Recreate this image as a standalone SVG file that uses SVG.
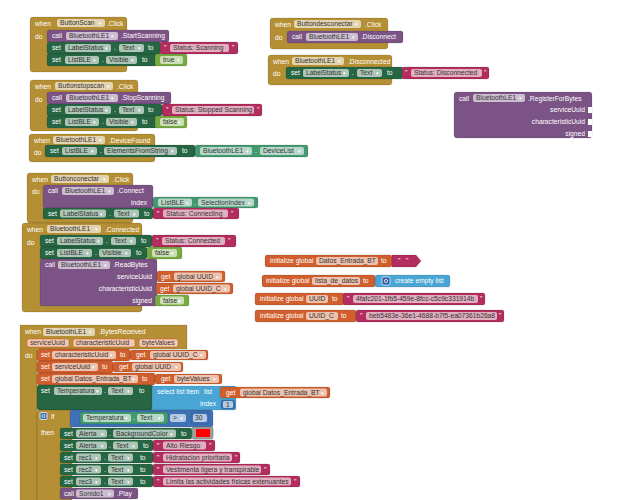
<svg xmlns="http://www.w3.org/2000/svg" width="618" height="500" viewBox="0 0 618 500">
<style>
text{font-family:"Liberation Sans","DejaVu Sans",sans-serif;font-size:6.7px;fill:#fff}
.ft{fill:#333}
.ar{font-family:"DejaVu Sans",sans-serif;font-size:5px;fill:#fff}
.r{text-anchor:end}
.b{stroke:#000;stroke-opacity:.2;stroke-width:.6}
.m{fill:#B58F33}
.p{fill:#7C5385}
.g{fill:#266643}
.gg{fill:#439970}
.s{fill:#B32D5E}
.l{fill:#77AB41}
.o{fill:#D05F2D}
.lb{fill:#49A6D4}
.mb{fill:#3F71B5}
.f{fill:#fff;fill-opacity:.62}
.pf{fill:#F4C9B2;stroke:#C9542A;stroke-width:.5}
</style>
<rect width="618" height="500" fill="#fff"/>

<g id="ev-buttonscan">
<rect class="m b" x="30" y="17" width="97" height="55" rx="3"/>
<text x="35" y="25.8">when</text>
<rect class="f" x="57" y="19" width="48" height="8" rx="2"/><text class="ft" x="60" y="25.4">ButtonScan</text><text class="ar" x="99" y="25">▾</text>
<text x="107" y="25.8">.Click</text>
<text x="35" y="39">do</text>
<rect class="p b" x="47" y="30" width="122" height="12" rx="2"/>
<text x="52" y="38.4">call</text>
<rect class="f" x="66" y="32" width="52" height="8" rx="2"/><text class="ft" x="69" y="38.4">BluetoothLE1</text><text class="ar" x="111" y="38">▾</text>
<text x="121" y="38.4">.StartScanning</text>
<rect class="g b" x="47" y="42" width="114" height="12" rx="2"/>
<text x="52" y="50.4">set</text>
<rect class="f" x="65" y="44" width="46" height="8" rx="2"/><text class="ft" x="68" y="50.4">LabelStatus</text><text class="ar" x="105" y="50">▾</text>
<text x="114" y="50.4">.</text>
<rect class="f" x="119" y="44" width="25" height="8" rx="2"/><text class="ft" x="122" y="50.4">Text</text><text class="ar" x="138" y="50">▾</text>
<text x="148" y="50.4">to</text>
<rect class="s b" x="160" y="42" width="78" height="12" rx="2"/>
<text x="164" y="50.4">"</text><rect class="f" x="170" y="44" width="59" height="8" rx="2"/><text class="ft" x="173" y="50.4">Status: Scanning</text><text x="232" y="50.4">"</text>
<rect class="g b" x="47" y="54" width="110" height="12" rx="2"/>
<text x="52" y="62.4">set</text>
<rect class="f" x="65" y="56" width="34" height="8" rx="2"/><text class="ft" x="68" y="62.4">ListBLE</text><text class="ar" x="93" y="62">▾</text>
<text x="102" y="62.4">.</text>
<rect class="f" x="106" y="56" width="31" height="8" rx="2"/><text class="ft" x="109" y="62.4">Visible</text><text class="ar" x="131" y="62">▾</text>
<text x="142" y="62.4">to</text>
<rect class="l b" x="155" y="54" width="32" height="12" rx="2"/>
<rect class="f" x="160" y="56" width="23" height="8" rx="2"/><text class="ft" x="163" y="62.4">true</text><text class="ar" x="177" y="62">▾</text>
</g>

<g id="ev-buttonstopscan">
<rect class="m b" x="30" y="80" width="108" height="51" rx="3"/>
<text x="35" y="88.8">when</text>
<rect class="f" x="55" y="82" width="58" height="8" rx="2"/><text class="ft" x="58" y="88.4">Buttonstopscan</text><text class="ar" x="107" y="88">▾</text>
<text x="117" y="88.8">.Click</text>
<text x="35" y="102">do</text>
<rect class="p b" x="47" y="92" width="124" height="12" rx="2"/>
<text x="52" y="100.4">call</text>
<rect class="f" x="66" y="94" width="52" height="8" rx="2"/><text class="ft" x="69" y="100.4">BluetoothLE1</text><text class="ar" x="111" y="100">▾</text>
<text x="121" y="100.4">.StopScanning</text>
<rect class="g b" x="47" y="104" width="115" height="12" rx="2"/>
<text x="52" y="112.4">set</text>
<rect class="f" x="65" y="106" width="46" height="8" rx="2"/><text class="ft" x="68" y="112.4">LabelStatus</text><text class="ar" x="105" y="112">▾</text>
<text x="114" y="112.4">.</text>
<rect class="f" x="119" y="106" width="25" height="8" rx="2"/><text class="ft" x="122" y="112.4">Text</text><text class="ar" x="138" y="112">▾</text>
<text x="148" y="112.4">to</text>
<rect class="s b" x="162" y="104" width="100" height="12" rx="2"/>
<text x="166" y="112.4">"</text><rect class="f" x="172" y="106" width="82" height="8" rx="2"/><text class="ft" x="175" y="112.4">Status: Stopped Scanning</text><text x="257" y="112.4">"</text>
<rect class="g b" x="47" y="116" width="110" height="12" rx="2"/>
<text x="52" y="124.4">set</text>
<rect class="f" x="65" y="118" width="34" height="8" rx="2"/><text class="ft" x="68" y="124.4">ListBLE</text><text class="ar" x="93" y="124">▾</text>
<text x="102" y="124.4">.</text>
<rect class="f" x="106" y="118" width="31" height="8" rx="2"/><text class="ft" x="109" y="124.4">Visible</text><text class="ar" x="131" y="124">▾</text>
<text x="142" y="124.4">to</text>
<rect class="l b" x="155" y="116" width="32" height="12" rx="2"/>
<rect class="f" x="160" y="118" width="24" height="8" rx="2"/><text class="ft" x="163" y="124.4">false</text><text class="ar" x="178" y="124">▾</text>
</g>

<g id="ev-devicefound">
<rect class="m b" x="29" y="134" width="126" height="28" rx="3"/>
<text x="34" y="142.8">when</text>
<rect class="f" x="53" y="136" width="52" height="8" rx="2"/><text class="ft" x="56" y="142.4">BluetoothLE1</text><text class="ar" x="99" y="142">▾</text>
<text x="109" y="142.8">.DeviceFound</text>
<text x="34" y="155">do</text>
<rect class="g b" x="45" y="145" width="150" height="12" rx="2"/>
<text x="50" y="153.4">set</text>
<rect class="f" x="62" y="147" width="35" height="8" rx="2"/><text class="ft" x="65" y="153.4">ListBLE</text><text class="ar" x="91" y="153">▾</text>
<text x="100" y="153.4">.</text>
<rect class="f" x="104" y="147" width="73" height="8" rx="2"/><text class="ft" x="107" y="153.4">ElementsFromString</text><text class="ar" x="171" y="153">▾</text>
<text x="182" y="153.4">to</text>
<rect class="gg b" x="195" y="145" width="113" height="12" rx="2"/>
<rect class="f" x="200" y="147" width="52" height="8" rx="2"/><text class="ft" x="203" y="153.4">BluetoothLE1</text><text class="ar" x="246" y="153">▾</text>
<text x="255" y="153.4">.</text>
<rect class="f" x="260" y="147" width="44" height="8" rx="2"/><text class="ft" x="263" y="153.4">DeviceList</text><text class="ar" x="298" y="153">▾</text>
</g>

<g id="ev-buttondesconectar">
<rect class="m b" x="270" y="18" width="118" height="31" rx="3"/>
<text x="275" y="26.8">when</text>
<rect class="f" x="294" y="20" width="67" height="8" rx="2"/><text class="ft" x="297" y="26.4">Buttondesconectar</text><text class="ar" x="355" y="26">▾</text>
<text x="365" y="26.8">.Click</text>
<text x="275" y="40">do</text>
<rect class="p b" x="287" y="31" width="116" height="12" rx="2"/>
<text x="292" y="39.4">call</text>
<rect class="f" x="306" y="33" width="52" height="8" rx="2"/><text class="ft" x="309" y="39.4">BluetoothLE1</text><text class="ar" x="352" y="39">▾</text>
<text x="361" y="39.4">.Disconnect</text>
</g>

<g id="ev-disconnected">
<rect class="m b" x="268" y="55" width="124" height="30" rx="3"/>
<text x="273" y="63.8">when</text>
<rect class="f" x="292" y="57" width="52" height="8" rx="2"/><text class="ft" x="295" y="63.4">BluetoothLE1</text><text class="ar" x="338" y="63">▾</text>
<text x="348" y="63.8">.Disconnected</text>
<text x="273" y="76">do</text>
<rect class="g b" x="286" y="67" width="117" height="12" rx="2"/>
<text x="291" y="75.4">set</text>
<rect class="f" x="303" y="69" width="46" height="8" rx="2"/><text class="ft" x="306" y="75.4">LabelStatus</text><text class="ar" x="343" y="75">▾</text>
<text x="352" y="75.4">.</text>
<rect class="f" x="357" y="69" width="25" height="8" rx="2"/><text class="ft" x="360" y="75.4">Text</text><text class="ar" x="376" y="75">▾</text>
<text x="387" y="75.4">to</text>
<rect class="s b" x="402" y="67" width="87" height="12" rx="2"/>
<text x="405" y="75.4">"</text><rect class="f" x="411" y="69" width="71" height="8" rx="2"/><text class="ft" x="414" y="75.4">Status: Disconnected</text><text x="484" y="75.4">"</text>
</g>

<g id="call-registerforbytes">
<rect class="p b" x="454" y="92" width="138" height="46" rx="3"/>
<text x="459" y="100.6">call</text>
<rect class="f" x="473" y="94" width="52" height="8" rx="2"/><text class="ft" x="476" y="100.4">BluetoothLE1</text><text class="ar" x="519" y="100">▾</text>
<text x="528" y="100.6">.RegisterForBytes</text>
<text class="r" x="585" y="112">serviceUuid</text>
<text class="r" x="585" y="124">characteristicUuid</text>
<text class="r" x="585" y="136">signed</text>
<rect x="588" y="107" width="4" height="6" fill="#fff"/>
<rect x="588" y="119" width="4" height="6" fill="#fff"/>
<rect x="588" y="131" width="4" height="6" fill="#fff"/>
</g>

<g id="ev-buttonconectar">
<rect class="m b" x="27" y="173" width="106" height="50" rx="3"/>
<text x="32" y="181.8">when</text>
<rect class="f" x="51" y="175" width="58" height="8" rx="2"/><text class="ft" x="54" y="181.4">Buttonconectar</text><text class="ar" x="103" y="181">▾</text>
<text x="113" y="181.8">.Click</text>
<text x="32" y="194">do</text>
<rect class="p b" x="43" y="185" width="110" height="23" rx="2"/>
<text x="48" y="193.4">call</text>
<rect class="f" x="62" y="187" width="52" height="8" rx="2"/><text class="ft" x="65" y="193.4">BluetoothLE1</text><text class="ar" x="108" y="193">▾</text>
<text x="117" y="193.4">.Connect</text>
<text class="r" x="147" y="205">index</text>
<rect class="gg b" x="153" y="197" width="105" height="11" rx="2"/>
<rect class="f" x="158" y="198.5" width="34" height="8" rx="2"/><text class="ft" x="161" y="204.9">ListBLE</text><text class="ar" x="186" y="204.5">▾</text>
<text x="194" y="204.9">.</text>
<rect class="f" x="198" y="198.5" width="56" height="8" rx="2"/><text class="ft" x="201" y="204.9">SelectionIndex</text><text class="ar" x="248" y="204.5">▾</text>
<rect class="g b" x="43" y="208" width="110" height="11" rx="2"/>
<text x="48" y="215.9">set</text>
<rect class="f" x="60" y="209.5" width="46" height="8" rx="2"/><text class="ft" x="63" y="215.9">LabelStatus</text><text class="ar" x="100" y="215.5">▾</text>
<text x="109" y="215.9">.</text>
<rect class="f" x="114" y="209.5" width="25" height="8" rx="2"/><text class="ft" x="117" y="215.9">Text</text><text class="ar" x="133" y="215.5">▾</text>
<text x="144" y="215.9">to</text>
<rect class="s b" x="153" y="208" width="86" height="11" rx="2"/>
<text x="157" y="215.9">"</text><rect class="f" x="163" y="209.5" width="65" height="8" rx="2"/><text class="ft" x="166" y="215.9">Status: Connecting</text><text x="231" y="215.9">"</text>
</g>

<g id="ev-connected">
<rect class="m b" x="22" y="223" width="120" height="89" rx="3"/>
<text x="27" y="231.8">when</text>
<rect class="f" x="47" y="225" width="54" height="8" rx="2"/><text class="ft" x="50" y="231.4">BluetoothLE1</text><text class="ar" x="95" y="231">▾</text>
<text x="105" y="231.8">.Connected</text>
<text x="27" y="245">do</text>
<rect class="g b" x="40" y="235" width="112" height="12" rx="2"/>
<text x="45" y="243.4">set</text>
<rect class="f" x="57" y="237" width="46" height="8" rx="2"/><text class="ft" x="60" y="243.4">LabelStatus</text><text class="ar" x="97" y="243">▾</text>
<text x="106" y="243.4">.</text>
<rect class="f" x="111" y="237" width="25" height="8" rx="2"/><text class="ft" x="114" y="243.4">Text</text><text class="ar" x="130" y="243">▾</text>
<text x="141" y="243.4">to</text>
<rect class="s b" x="152" y="235" width="84" height="12" rx="2"/>
<text x="156" y="243.4">"</text><rect class="f" x="162" y="237" width="63" height="8" rx="2"/><text class="ft" x="165" y="243.4">Status: Connected</text><text x="228" y="243.4">"</text>
<rect class="g b" x="40" y="247" width="107" height="12" rx="2"/>
<text x="45" y="255.4">set</text>
<rect class="f" x="57" y="249" width="35" height="8" rx="2"/><text class="ft" x="60" y="255.4">ListBLE</text><text class="ar" x="86" y="255">▾</text>
<text x="95" y="255.4">.</text>
<rect class="f" x="99" y="249" width="32" height="8" rx="2"/><text class="ft" x="102" y="255.4">Visible</text><text class="ar" x="125" y="255">▾</text>
<text x="136" y="255.4">to</text>
<rect class="l b" x="147" y="247" width="35" height="12" rx="2"/>
<rect class="f" x="152" y="249" width="25" height="8" rx="2"/><text class="ft" x="155" y="255.4">false</text><text class="ar" x="171" y="255">▾</text>
<rect class="p b" x="40" y="259" width="117" height="47" rx="2"/>
<text x="45" y="267.4">call</text>
<rect class="f" x="58" y="261" width="52" height="8" rx="2"/><text class="ft" x="61" y="267.4">BluetoothLE1</text><text class="ar" x="104" y="267">▾</text>
<text x="113" y="267.4">.ReadBytes</text>
<text class="r" x="152" y="279">serviceUuid</text>
<rect class="o b" x="157" y="271" width="68" height="11" rx="2"/>
<text x="161" y="278.9">get</text>
<rect class="f" x="174" y="272.5" width="48" height="8" rx="2"/><text class="ft" x="177" y="278.9">global UUID</text><text class="ar" x="216" y="278.5">▾</text>
<text class="r" x="152" y="291">characteristicUuid</text>
<rect class="o b" x="156" y="283" width="77" height="11" rx="2"/>
<text x="160" y="290.9">get</text>
<rect class="f" x="173" y="284.5" width="57" height="8" rx="2"/><text class="ft" x="176" y="290.9">global UUID_C</text><text class="ar" x="224" y="290.5">▾</text>
<text class="r" x="152" y="303">signed</text>
<rect class="l b" x="155" y="295" width="34" height="11" rx="2"/>
<rect class="f" x="160" y="296.5" width="24" height="8" rx="2"/><text class="ft" x="163" y="302.9">false</text><text class="ar" x="178" y="302.5">▾</text>
</g>

<g id="init-datos-entrada-bt">
<rect class="o b" x="265" y="255" width="127" height="12" rx="2"/>
<text x="270" y="263.4">initialize global</text>
<rect class="f" x="316" y="257" width="62" height="8" rx="2"/><text class="ft" x="319" y="263.4">Datos_Entrada_BT</text>
<text x="381" y="263.4">to</text>
<polygon class="s b" points="392,255 416,255 421,261 416,267 392,267"/>
<text x="398" y="263.4">"</text><text x="406" y="263.4">"</text>
</g>

<g id="init-lista-de-datos">
<rect class="o b" x="262" y="275" width="113" height="12" rx="2"/>
<text x="266" y="283.4">initialize global</text>
<rect class="f" x="312" y="277" width="48" height="8" rx="2"/><text class="ft" x="315" y="283.4">lista_de_datos</text>
<text x="363" y="283.4">to</text>
<rect class="lb b" x="375" y="275" width="75" height="12" rx="2"/>
<rect x="382" y="277" width="8" height="8" rx="1" fill="#2F5FA8" stroke="#fff" stroke-width=".7"/>
<circle cx="386" cy="281" r="1.6" fill="none" stroke="#fff" stroke-width=".8"/>
<text x="395" y="283.4">create empty list</text>
</g>

<g id="init-uuid">
<rect class="o b" x="255" y="293" width="89" height="12" rx="2"/>
<text x="260" y="301.4">initialize global</text>
<rect class="f" x="306" y="295" width="22" height="8" rx="2"/><text class="ft" x="309" y="301.4">UUID</text>
<text x="332" y="301.4">to</text>
<rect class="s b" x="343" y="293" width="142" height="12" rx="2"/>
<text x="347" y="301.4">"</text><rect class="f" x="353" y="295" width="125" height="8" rx="2"/><text class="ft" x="356" y="301.4">4fafc201-1fb5-459e-8fcc-c5c9c331914b</text><text x="480" y="301.4">"</text>
</g>

<g id="init-uuid-c">
<rect class="o b" x="255" y="310" width="101" height="12" rx="2"/>
<text x="260" y="318.4">initialize global</text>
<rect class="f" x="306" y="312" width="32" height="8" rx="2"/><text class="ft" x="309" y="318.4">UUID_C</text>
<text x="341" y="318.4">to</text>
<rect class="s b" x="356" y="310" width="148" height="12" rx="2"/>
<text x="360" y="318.4">"</text><rect class="f" x="366" y="312" width="131" height="8" rx="2"/><text class="ft" x="369" y="318.4">beb5483e-36e1-4688-b7f5-ea07361b26a8</text><text x="499" y="318.4">"</text>
</g>

<g id="ev-bytesreceived">
<path class="m b" d="M20,325 H187 V349 H37 V505 H20 Z"/>
<text x="25" y="334.4">when</text>
<rect class="f" x="43" y="328" width="52" height="8" rx="2"/><text class="ft" x="46" y="334.4">BluetoothLE1</text><text class="ar" x="89" y="334">▾</text>
<text x="99" y="334.4">.BytesReceived</text>
<rect class="pf" x="27" y="339" width="42" height="8" rx="2"/><text class="ft" x="30" y="345.4">serviceUuid</text>
<rect class="pf" x="73" y="339" width="62" height="8" rx="2"/><text class="ft" x="76" y="345.4">characteristicUuid</text>
<rect class="pf" x="139" y="339" width="39" height="8" rx="2"/><text class="ft" x="142" y="345.4">byteValues</text>
<text x="25" y="358">do</text>

<rect class="o b" x="37" y="349" width="93" height="12" rx="2"/>
<text x="41" y="357.4">set</text>
<rect class="f" x="52" y="351" width="64" height="8" rx="2"/><text class="ft" x="55" y="357.4">characteristicUuid</text><text class="ar" x="110" y="357">▾</text>
<text x="120" y="357.4">to</text>
<rect class="o b" x="130" y="350" width="78" height="10" rx="2"/>
<text x="136" y="357.4">get</text>
<rect class="f" x="150" y="351" width="56" height="8" rx="2"/><text class="ft" x="153" y="357.4">global UUID_C</text><text class="ar" x="200" y="357">▾</text>

<rect class="o b" x="37" y="361" width="76" height="12" rx="2"/>
<text x="41" y="369.4">set</text>
<rect class="f" x="52" y="363" width="46" height="8" rx="2"/><text class="ft" x="55" y="369.4">serviceUuid</text><text class="ar" x="92" y="369">▾</text>
<text x="102" y="369.4">to</text>
<rect class="o b" x="113" y="362" width="70" height="10" rx="2"/>
<text x="119" y="369.4">get</text>
<rect class="f" x="132" y="363" width="49" height="8" rx="2"/><text class="ft" x="135" y="369.4">global UUID</text><text class="ar" x="175" y="369">▾</text>

<rect class="o b" x="37" y="373" width="118" height="12" rx="2"/>
<text x="41" y="381.4">set</text>
<rect class="f" x="52" y="375" width="86" height="8" rx="2"/><text class="ft" x="55" y="381.4">global Datos_Entrada_BT</text><text class="ar" x="132" y="381">▾</text>
<text x="142" y="381.4">to</text>
<rect class="o b" x="155" y="374" width="67" height="10" rx="2"/>
<text x="161" y="381.4">get</text>
<rect class="f" x="174" y="375" width="45" height="8" rx="2"/><text class="ft" x="177" y="381.4">byteValues</text><text class="ar" x="213" y="381">▾</text>

<rect class="g b" x="37" y="385" width="116" height="25" rx="2"/>
<text x="41" y="393.4">set</text>
<rect class="f" x="54" y="387" width="48" height="8" rx="2"/><text class="ft" x="57" y="393.4">Temperatura</text><text class="ar" x="96" y="393">▾</text>
<text x="104" y="393.4">.</text>
<rect class="f" x="108" y="387" width="25" height="8" rx="2"/><text class="ft" x="111" y="393.4">Text</text><text class="ar" x="127" y="393">▾</text>
<text x="139" y="393.4">to</text>
<rect class="lb b" x="152" y="386" width="84" height="24" rx="2"/>
<text x="157" y="394.4">select list item</text>
<text x="204" y="394.4">list</text>
<rect class="o b" x="220" y="387" width="110" height="11" rx="2"/>
<text x="226" y="394.9">get</text>
<rect class="f" x="240" y="388.5" width="87" height="8" rx="2"/><text class="ft" x="243" y="394.9">global Datos_Entrada_BT</text><text class="ar" x="321" y="394.5">▾</text>
<text class="r" x="216" y="406.4">index</text>
<rect class="mb b" x="221" y="400" width="14" height="9" rx="2"/>
<rect class="f" x="223" y="401" width="10" height="7" rx="1.5"/><text class="ft" x="226" y="406.9">1</text>

<rect class="m b" x="37" y="410" width="35" height="95" rx="2"/>
<rect x="40" y="412.5" width="7" height="7" rx="1" fill="#3F71B5" stroke="#fff" stroke-width=".7"/>
<circle cx="43.5" cy="416" r="1.5" fill="none" stroke="#fff" stroke-width=".7"/>
<text x="51" y="418.6">if</text>
<rect class="mb b" x="70" y="410" width="143" height="17" rx="2"/>
<rect class="gg b" x="80" y="412" width="88" height="12" rx="2"/>
<rect class="f" x="83" y="414" width="48" height="8" rx="2"/><text class="ft" x="86" y="420.4">Temperatura</text><text class="ar" x="125" y="420">▾</text>
<text x="133" y="420.4">.</text>
<rect class="f" x="137" y="414" width="27" height="8" rx="2"/><text class="ft" x="140" y="420.4">Text</text><text class="ar" x="158" y="420">▾</text>
<rect class="f" x="170" y="414" width="16" height="8" rx="2"/><text class="ft" x="173" y="420.4">&gt;</text><text class="ar" x="180" y="420">▾</text>
<rect class="mb b" x="191" y="412" width="18" height="12" rx="2"/>
<rect class="f" x="193" y="414" width="14" height="8" rx="2"/><text class="ft" x="195" y="420.4">30</text>
<text x="41" y="435.4">then</text>

<rect class="g b" x="60" y="428" width="132" height="11" rx="2"/>
<text x="64" y="435.9">set</text>
<rect class="f" x="76" y="429.5" width="31" height="8" rx="2"/><text class="ft" x="79" y="435.9">Alerta</text><text class="ar" x="101" y="435.5">▾</text>
<text x="109" y="435.9">.</text>
<rect class="f" x="113" y="429.5" width="63" height="8" rx="2"/><text class="ft" x="116" y="435.9">BackgroundColor</text><text class="ar" x="170" y="435.5">▾</text>
<text x="181" y="435.9">to</text>
<rect x="192" y="427" width="21" height="12" rx="2" fill="#9E9E9E" stroke="#777" stroke-width=".6"/>
<rect x="196" y="429" width="14" height="8" fill="#f00"/>

<rect class="g b" x="60" y="440" width="93" height="11" rx="2"/>
<text x="64" y="447.9">set</text>
<rect class="f" x="76" y="441.5" width="31" height="8" rx="2"/><text class="ft" x="79" y="447.9">Alerta</text><text class="ar" x="101" y="447.5">▾</text>
<text x="109" y="447.9">.</text>
<rect class="f" x="113" y="441.5" width="25" height="8" rx="2"/><text class="ft" x="116" y="447.9">Text</text><text class="ar" x="132" y="447.5">▾</text>
<text x="143" y="447.9">to</text>
<rect class="s b" x="153" y="440" width="62" height="11" rx="2"/>
<text x="157" y="447.9">"</text><rect class="f" x="163" y="441.5" width="43" height="8" rx="2"/><text class="ft" x="166" y="447.9">Alto Riesgo</text><text x="209" y="447.9">"</text>

<rect class="g b" x="60" y="452" width="93" height="11" rx="2"/>
<text x="64" y="459.9">set</text>
<rect class="f" x="76" y="453.5" width="25" height="8" rx="2"/><text class="ft" x="79" y="459.9">rec1</text><text class="ar" x="95" y="459.5">▾</text>
<text x="104" y="459.9">.</text>
<rect class="f" x="108" y="453.5" width="25" height="8" rx="2"/><text class="ft" x="111" y="459.9">Text</text><text class="ar" x="127" y="459.5">▾</text>
<text x="140" y="459.9">to</text>
<rect class="s b" x="153" y="452" width="87" height="11" rx="2"/>
<text x="157" y="459.9">"</text><rect class="f" x="163" y="453.5" width="69" height="8" rx="2"/><text class="ft" x="166" y="459.9">Hidratacion prioritaria</text><text x="235" y="459.9">"</text>

<rect class="g b" x="60" y="464" width="93" height="11" rx="2"/>
<text x="64" y="471.9">set</text>
<rect class="f" x="76" y="465.5" width="25" height="8" rx="2"/><text class="ft" x="79" y="471.9">rec2</text><text class="ar" x="95" y="471.5">▾</text>
<text x="104" y="471.9">.</text>
<rect class="f" x="108" y="465.5" width="25" height="8" rx="2"/><text class="ft" x="111" y="471.9">Text</text><text class="ar" x="127" y="471.5">▾</text>
<text x="140" y="471.9">to</text>
<rect class="s b" x="153" y="464" width="117" height="11" rx="2"/>
<text x="157" y="471.9">"</text><rect class="f" x="163" y="465.5" width="98" height="8" rx="2"/><text class="ft" x="166" y="471.9">Vestimenta ligera y transpirable</text><text x="264" y="471.9">"</text>

<rect class="g b" x="60" y="476" width="93" height="11" rx="2"/>
<text x="64" y="483.9">set</text>
<rect class="f" x="76" y="477.5" width="25" height="8" rx="2"/><text class="ft" x="79" y="483.9">rec3</text><text class="ar" x="95" y="483.5">▾</text>
<text x="104" y="483.9">.</text>
<rect class="f" x="108" y="477.5" width="25" height="8" rx="2"/><text class="ft" x="111" y="483.9">Text</text><text class="ar" x="127" y="483.5">▾</text>
<text x="140" y="483.9">to</text>
<rect class="s b" x="153" y="476" width="147" height="11" rx="2"/>
<text x="157" y="483.9">"</text><rect class="f" x="163" y="477.5" width="128" height="8" rx="2"/><text class="ft" x="166" y="483.9">Limita las actividades físicas extenuantes</text><text x="294" y="483.9">"</text>

<rect class="p b" x="60" y="488" width="78" height="11" rx="2"/>
<text x="64" y="495.9">call</text>
<rect class="f" x="76" y="489.5" width="38" height="8" rx="2"/><text class="ft" x="79" y="495.9">Sonido1</text><text class="ar" x="108" y="495.5">▾</text>
<text x="117" y="495.9">.Play</text>
</g>
</svg>
